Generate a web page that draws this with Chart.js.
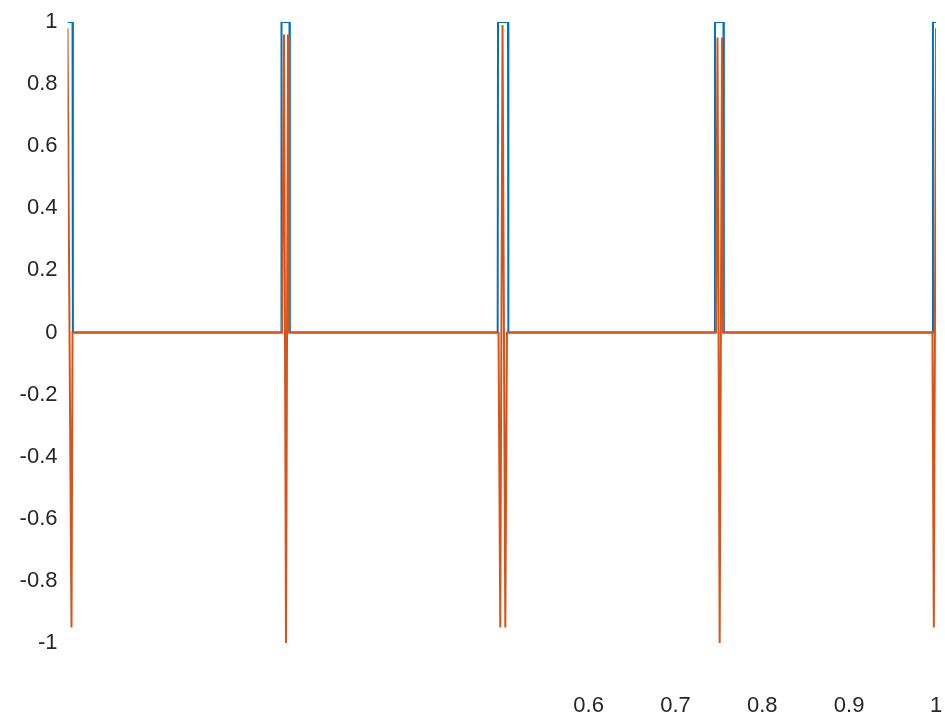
<!DOCTYPE html>
<html>
<head>
<meta charset="utf-8">
<script src="https://cdn.jsdelivr.net/npm/chart.js@4.4.1/dist/chart.umd.min.js"></script>
<style>
  html, body { margin: 0; padding: 0; background: #fff; }
  #wrap { position: relative; width: 945px; height: 715px; }
</style>
</head>
<body>
<div id="wrap"><canvas id="plot"></canvas></div>
<script>
// pulse signal (blue)
const pulseX = [0, 0.0058, 0.0062, 0.2460, 0.2464, 0.2556, 0.2560, 0.4953, 0.4957, 0.5072, 0.5076,
                0.7451, 0.7455, 0.7553, 0.7557, 0.9961, 0.9965, 1];
const pulseY = [1, 1, 0, 0, 1, 1, 0, 0, 1, 1, 0,
                0, 1, 1, 0, 0, 1, 1];

// modulated signal (orange)
const waveX = [0, 0.0046, 0.0058,
               0.2470, 0.2493, 0.2516, 0.2539, 0.2550,
               0.4963, 0.4983, 0.5009, 0.5041, 0.5060,
               0.7467, 0.7484, 0.7509, 0.7536, 0.7548,
               0.9959, 0.9975, 1];
const waveY = [0.98, -0.95, 0,
               0, 0.96, -1, 0.96, 0,
               0, -0.95, 0.99, -0.95, 0,
               0, 0.95, -1, 0.95, 0,
               0, -0.95, 0.98];

const xTickValues = [0, 0.1, 0.2, 0.3, 0.4, 0.5, 0.6, 0.7, 0.8, 0.9, 1];
const xTickLabels = ['', '', '', '', '', '', '0.6', '0.7', '0.8', '0.9', '1'];
const yTickValues = [-1, -0.8, -0.6, -0.4, -0.2, 0, 0.2, 0.4, 0.6, 0.8, 1];
const yTickLabels = ['-1', '-0.8', '-0.6', '-0.4', '-0.2', '0', '0.2', '0.4', '0.6', '0.8', '1'];

const toPoints = (xs, ys) => xs.map((x, i) => ({ x: x, y: ys[i] }));

const tickFont = { family: 'Liberation Sans, Arial, sans-serif', size: 22 };

new Chart(document.getElementById('plot').getContext('2d'), {
    type: 'scatter',
    data: {
        datasets: [
            {
                data: toPoints(pulseX, pulseY),
                showLine: true,
                borderColor: '#0072BD',
                borderWidth: 2,
                pointRadius: 0,
                tension: 0,
                order: 2,
            },
            {
                data: toPoints(waveX, waveY),
                showLine: true,
                borderColor: '#D95319',
                borderWidth: 2,
                pointRadius: 0,
                tension: 0,
                order: 1,
            },
        ],
    },
    options: {
        responsive: true,
        maintainAspectRatio: false,
        animation: false,
        layout: { padding: { top: 22, right: 9, left: 0, bottom: 0 } },
        plugins: { legend: { display: false }, tooltip: { enabled: false } },
        scales: {
            x: {
                type: 'linear',
                min: 0,
                max: 1,
                grid: { display: false, drawTicks: false },
                border: { display: false },
                afterBuildTicks: (scale) => {
                    scale.ticks = xTickValues.map((v) => ({ value: v }));
                },
                afterFit: (scale) => {
                    scale.height = 72;
                    scale.paddingLeft = 0;
                    scale.paddingRight = 0;
                },
                ticks: {
                    autoSkip: false,
                    maxRotation: 0,
                    padding: 50,
                    color: '#262626',
                    font: tickFont,
                    callback: (value, index) => xTickLabels[index],
                },
            },
            y: {
                type: 'linear',
                min: -1,
                max: 1,
                grid: { display: false, drawTicks: false },
                border: { display: false },
                afterBuildTicks: (scale) => {
                    scale.ticks = yTickValues.map((v) => ({ value: v }));
                },
                afterFit: (scale) => {
                    scale.width = 67.5;
                    scale.paddingTop = 0;
                    scale.paddingBottom = 0;
                },
                ticks: {
                    autoSkip: false,
                    padding: 10,
                    color: '#262626',
                    font: tickFont,
                    callback: (value, index) => yTickLabels[index],
                },
            },
        },
    },
});
</script>
</body>
</html>
